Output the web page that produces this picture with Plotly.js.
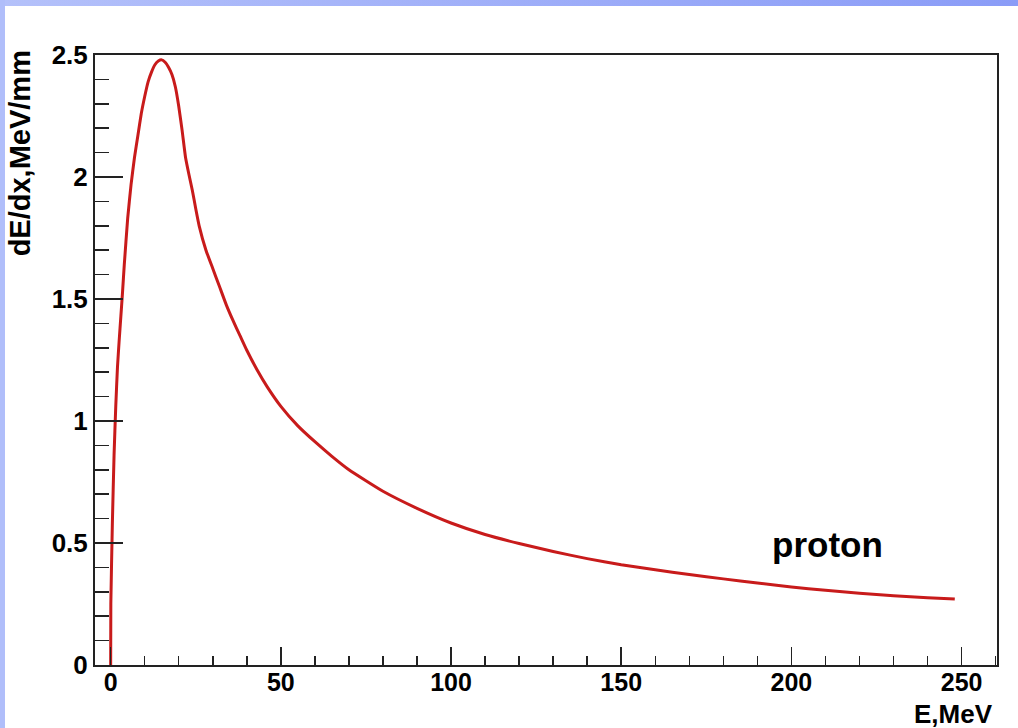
<!DOCTYPE html>
<html>
<head>
<meta charset="utf-8">
<script src="https://cdn.plot.ly/plotly-3.0.1.min.js"></script>
<style>
  html, body { margin: 0; padding: 0; background: #ffffff; width: 1018px; height: 728px; overflow: hidden; }
  #topbar { position: absolute; left: 0; top: 0; width: 1018px; height: 6px;
            background: linear-gradient(to right, #b4c1fa, #8a9cf7); }
  #leftbar { position: absolute; left: 0; top: 0; width: 5px; height: 728px; background: #b0befa; }
  #chart { position: absolute; left: 0; top: 0; width: 1018px; height: 728px; }
</style>
</head>
<body>
<div id="topbar"></div>
<div id="leftbar"></div>
<div id="chart"></div>
<script>
// Energy (MeV)
const energy = [0, 0.05, 0.5, 1.0, 1.5, 2.0, 2.5, 3.0, 3.5, 4, 5, 6, 7, 8, 9, 10, 11, 12, 13, 14, 15,
  16, 17, 18, 19, 20, 21, 22, 23, 24, 25, 26, 28, 30, 32, 34, 36, 38, 40, 43, 46, 50, 55, 60, 65,
  70, 75, 80, 90, 100, 110, 120, 130, 140, 150, 160, 170, 180, 190, 200, 210, 220, 230, 240, 248];
// Stopping power dE/dx (MeV/mm)
const dEdx = [0, 0.25, 0.58, 0.86, 1.06, 1.22, 1.33, 1.43, 1.53, 1.64, 1.83, 1.97, 2.08, 2.17, 2.26, 2.33, 2.39, 2.43, 2.46, 2.475, 2.48,
  2.47, 2.45, 2.42, 2.37, 2.29, 2.19, 2.08, 2.01, 1.945, 1.87, 1.80, 1.70, 1.625, 1.55, 1.475, 1.41, 1.35, 1.29, 1.21, 1.14, 1.06, 0.98, 0.915, 0.855,
  0.80, 0.755, 0.712, 0.642, 0.582, 0.535, 0.498, 0.465, 0.436, 0.411, 0.39, 0.371, 0.353, 0.336, 0.32, 0.306, 0.294, 0.284, 0.276, 0.27];

const xTitle = "E,MeV";
const yTitle = "dE/dx,MeV/mm";
const label = "proton";

const FONT = "Liberation Sans, Arial, Helvetica, sans-serif";
const AX = "#222222";

const trace = {
  x: energy, y: dEdx, type: "scatter", mode: "lines",
  line: { color: "#c81b1b", width: 3, shape: "spline", smoothing: 0.4 },
  hoverinfo: "skip"
};

const layout = {
  width: 1018, height: 728,
  margin: { l: 95, r: 21, t: 55, b: 63, pad: 0 },
  paper_bgcolor: "rgba(0,0,0,0)",
  plot_bgcolor: "#ffffff",
  showlegend: false,
  font: { family: FONT, color: "#000000" },
  xaxis: {
    range: [-4.6, 260.4], tickmode: "linear", tick0: 0, dtick: 50,
    ticks: "inside", ticklen: 18, tickwidth: 1.5, tickcolor: AX,
    showline: true, mirror: true, linecolor: AX, linewidth: 2,
    showgrid: false, zeroline: false,
    ticklabelposition: "outside", ticklabelstandoff: -6,
    tickfont: { family: FONT, size: 25, weight: "bold", color: "#000" },
    minor: { ticks: "inside", ticklen: 9, tickwidth: 1.5, tickcolor: AX, dtick: 10, tick0: 0, showgrid: false }
  },
  yaxis: {
    range: [0, 2.5], tickmode: "linear", tick0: 0, dtick: 0.5,
    ticks: "inside", ticklen: 28, tickwidth: 1.5, tickcolor: AX,
    showline: true, mirror: true, linecolor: AX, linewidth: 2,
    showgrid: false, zeroline: false,
    tickfont: { family: FONT, size: 26, weight: "bold", color: "#000" },
    minor: { ticks: "inside", ticklen: 14, tickwidth: 1.5, tickcolor: AX, dtick: 0.1, tick0: 0, showgrid: false }
  },
  annotations: [
    { text: xTitle, xref: "paper", yref: "paper", x: 0.998, y: -0.08,
      xanchor: "right", yanchor: "middle", showarrow: false,
      font: { family: FONT, size: 26, weight: "bold", color: "#000" } },
    { text: yTitle, xref: "paper", yref: "paper", x: -0.083, y: 0.839,
      xanchor: "center", yanchor: "middle", textangle: -90, showarrow: false,
      font: { family: FONT, size: 29, weight: "bold", color: "#000" } },
    { text: label, xref: "x", yref: "y", x: 210.7, y: 0.493,
      xanchor: "center", yanchor: "middle", showarrow: false,
      font: { family: FONT, size: 35, weight: "bold", color: "#000" } }
  ]
};

Plotly.newPlot("chart", [trace], layout, { displayModeBar: false, staticPlot: true });
</script>
</body>
</html>
